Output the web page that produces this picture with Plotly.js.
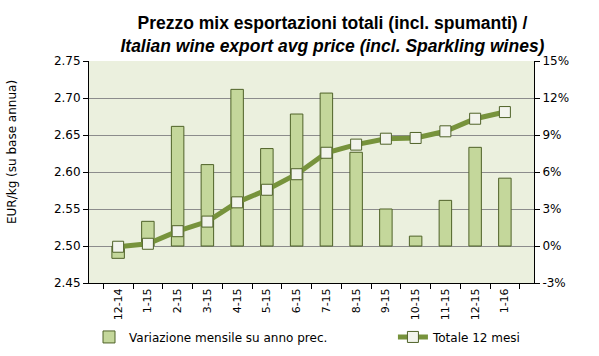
<!DOCTYPE html>
<html><head><meta charset="utf-8">
<script src="https://cdn.plot.ly/plotly-3.0.1.min.js"></script>
<style>html,body{margin:0;padding:0;background:#fff}#chart{width:599px;height:356px}</style>
</head><body><div id="chart"></div>
<script>
const months = ['12-14','1-15','2-15','3-15','4-15','5-15','6-15','7-15','8-15','9-15','10-15','11-15','12-15','1-16'];
const monthlyChange = [-1.0, 2.0, 9.7, 6.6, 12.7, 7.9, 10.7, 12.4, 7.6, 3.0, 0.8, 3.7, 8.0, 5.5];
const total12m = [2.499, 2.503, 2.520, 2.533, 2.559, 2.576, 2.597, 2.626, 2.637, 2.645, 2.646, 2.655, 2.672, 2.681];
const priceTicks = [2.45, 2.50, 2.55, 2.60, 2.65, 2.70, 2.75];
const priceTickText = ['2.45','2.50','2.55','2.60','2.65','2.70','2.75'];
const pctTicks = [-3, 0, 3, 6, 9, 12, 15];
const pctTickText = ['-3%','0%','3%','6%','9%','12%','15%'];

const fam = 'DejaVu Sans, Verdana, sans-serif';
const xTickFont = {family: fam, size: 11, color: '#000'};
const yTickFont = {family: fam, size: 12, color: '#000'};

const data = [
  {type: 'bar', x: months, y: monthlyChange, yaxis: 'y', name: 'Variazione mensile su anno prec.', legend: 'legend',
   width: 0.42, marker: {color: '#C4D79B', line: {color: '#4F6228', width: 1}}},
  {type: 'scatter', mode: 'lines+markers', x: months, y: total12m, yaxis: 'y2', name: 'Totale 12 mesi', legend: 'legend2',
   line: {color: '#77933C', width: 5},
   marker: {symbol: 'square', size: 11, color: '#F2F4EC', line: {color: '#4F6228', width: 1}}}
];

const layout = {
  width: 599, height: 356,
  margin: {l: 89, r: 65, t: 61, b: 73, autoexpand: false},
  paper_bgcolor: '#fff', plot_bgcolor: '#EBF0DE',
  showlegend: true,
  title: {text: '<b>Prezzo mix esportazioni totali (incl. spumanti) /</b><br><b><i>Italian wine export avg price (incl. Sparkling wines)</i></b>',
    font: {family: 'Liberation Sans, Arial, sans-serif', size: 17.5, color: '#000'},
    x: 0.555, xanchor: 'center', y: 0.918, yanchor: 'top'},
  xaxis: {type: 'category', tickangle: -90, tickfont: xTickFont, ticks: 'outside', ticklen: 5, tickcolor: '#000',
    tickson: 'boundaries', showline: true, linecolor: '#000', linewidth: 1, showgrid: false, zeroline: false, automargin: false},
  yaxis: {side: 'right', range: [-3, 15], tickvals: pctTicks, ticktext: pctTickText, tickfont: yTickFont,
    ticks: 'outside', ticklen: 5, tickcolor: '#000', showline: true, linecolor: '#000', linewidth: 1,
    showgrid: true, gridcolor: '#8C8C8C', gridwidth: 1, zeroline: false, automargin: false},
  yaxis2: {overlaying: 'y', side: 'left', range: [2.45, 2.75], tickvals: priceTicks, ticktext: priceTickText,
    tickfont: yTickFont, ticks: 'outside', ticklen: 5, tickcolor: '#000', showline: true, linecolor: '#000', linewidth: 1,
    showgrid: false, zeroline: false, automargin: false},
  annotations: [{text: 'EUR/kg (su base annua)', xref: 'paper', yref: 'paper', x: -0.173, y: 0.59,
    xanchor: 'center', yanchor: 'middle', textangle: -90, showarrow: false,
    font: {family: fam, size: 12, color: '#000'}}],
  legend: {orientation: 'h', x: 0.0, xanchor: 'left', y: -0.243, yanchor: 'middle',
    font: {family: fam, size: 12, color: '#000'}, bgcolor: 'rgba(0,0,0,0)'},
  legend2: {orientation: 'h', x: 0.683, xanchor: 'left', y: -0.243, yanchor: 'middle',
    font: {family: fam, size: 12, color: '#000'}, bgcolor: 'rgba(0,0,0,0)'}
};

Plotly.newPlot('chart', data, layout, {displayModeBar: false, staticPlot: true});
</script></body></html>
